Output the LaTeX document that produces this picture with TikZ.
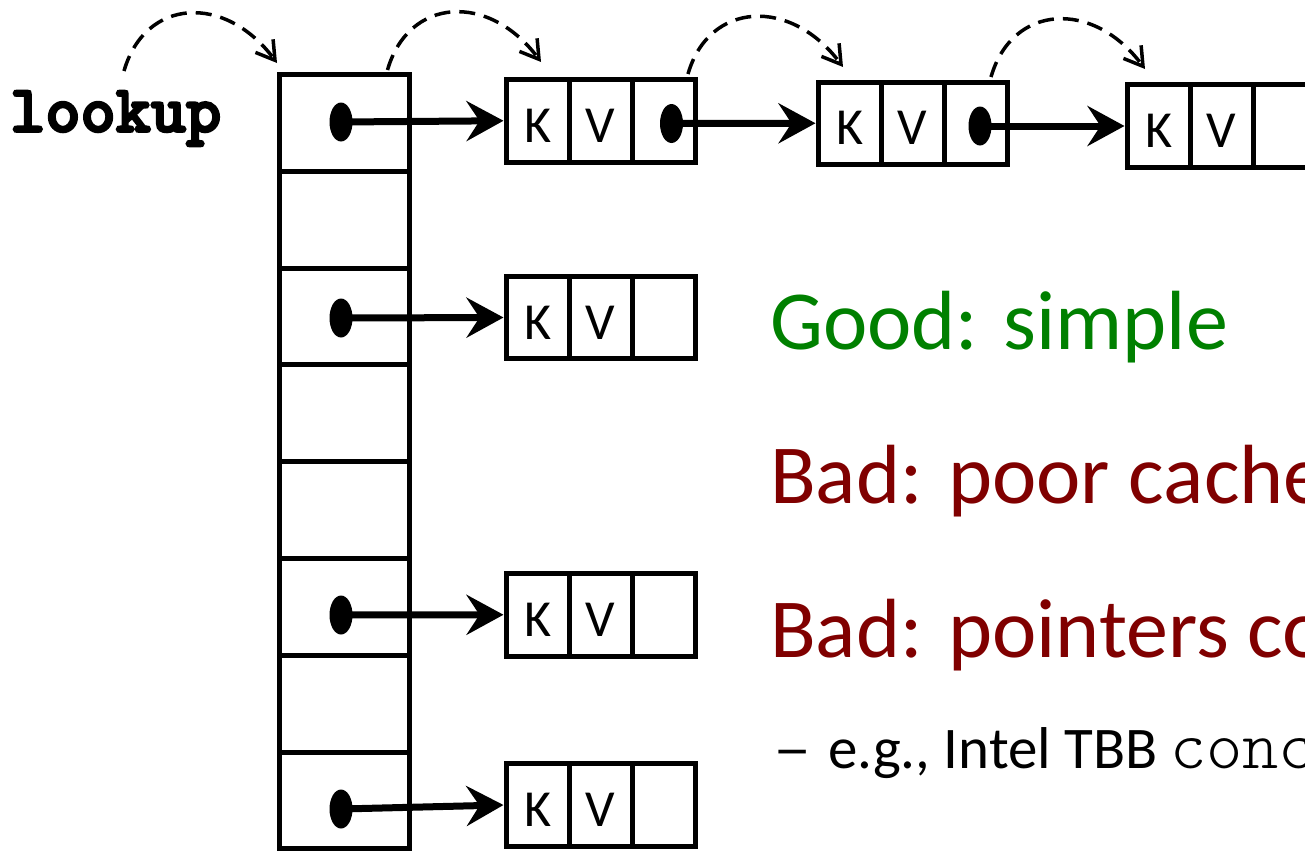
\documentclass[tikz,border=0pt]{standalone}
\usepackage{fontspec}
\setmainfont{Carlito}
\newfontfamily\heavymono[FakeBold=3.5]{lmmonolt10-bold.otf}
\newfontfamily\lightmono{lmmonolt10-regular.otf}
\usetikzlibrary{arrows.meta,shapes.geometric}

\definecolor{goodgreen}{RGB}{0,128,0}
\definecolor{badred}{RGB}{128,0,0}

\tikzset{
  slot/.style={draw, line width=5pt, minimum width=130pt, minimum height=96.8pt, inner sep=0pt},
  cell/.style={draw, line width=5pt, minimum width=63pt, minimum height=82.5pt, inner sep=0pt,
    font=\fontsize{52}{52}\selectfont, text height=43pt, text depth=0pt},
  dot/.style={ellipse, fill=black, minimum width=23pt, minimum height=39pt, inner sep=0pt},
  ptr/.style={line width=7pt, -{Stealth[length=37pt, width=40pt, inset=13pt]}},
  hop/.style={line width=3.5pt, dash pattern=on 16pt off 9pt, -{Straight Barb[length=18pt, width=22pt]}},
  txt/.style={anchor=base west, inner sep=0pt},
}

% one key/value/next record: name, left edge, vertical centre
\newcommand{\kvbox}[3]{%
  \node[cell] (#1k) at ({#2+31.5}, #3) {K};
  \node[cell] (#1v) at ({#2+94.5}, #3) {V};
  \node[cell] (#1n) at ({#2+157.5}, #3) {};
}

\begin{document}
\begin{tikzpicture}[x=1pt, y=-1pt]
\useasboundingbox (0,0) rectangle (1305,854);
\clip (0,0) rectangle (1305,854);

% bucket array
\foreach \i in {0,...,7}
  \node[slot] (r\i) at (344.5, {74.5+96.8*(\i+0.5)}) {};

% records
\kvbox{a}{506}{120.75}
\kvbox{b}{818}{123.25}
\kvbox{c}{1127}{126}
\kvbox{d}{506}{317.5}
\kvbox{e}{506}{614.75}
\kvbox{f}{506}{805}

% pointer origins
\node[dot] (p0) at (341,122) {};
\node[dot] (p2) at (341,318) {};
\node[dot] (p5) at (341,615) {};
\node[dot] (p7) at (341,809) {};
\node[dot] (pa) at (671.5,123.5) {};
\node[dot] (pb) at (980,126) {};

% pointers
\draw[ptr] (p0.center) -- (ak.west);
\draw[ptr] (p2.center) -- (dk.west);
\draw[ptr] (p5.center) -- (ek.west);
\draw[ptr] (p7.center) -- (fk.west);
\draw[ptr] (pa.center) -- (bk.west);
\draw[ptr] (pb.center) -- (ck.west);

% lookup label
\node[txt, font=\heavymono\fontsize{67}{67}\selectfont] (lk) at (10,131.7) {lookup};

% lookup hops
\coordinate (h1s) at (124,71);   \coordinate (h1e) at (277,63);
\coordinate (h2s) at (387.5,70); \coordinate (h2e) at (541,62);
\coordinate (h3s) at (688,74);   \coordinate (h3e) at (843,67);
\coordinate (h4s) at (991,77);   \coordinate (h4e) at (1145,69);
\draw[hop] (h1s) .. controls +(21,-73) and +(-52,-70) .. (h1e);
\draw[hop] (h2s) .. controls +(21,-73) and +(-52,-70) .. (h2e);
\draw[hop] (h3s) .. controls +(21,-73) and +(-52,-70) .. (h3e);
\draw[hop] (h4s) .. controls +(21,-73) and +(-52,-70) .. (h4e);

% remarks
\node[txt, text=goodgreen, font=\fontsize{84}{84}\selectfont] (good) at (770,349) {Good: simple};
\node[txt, text=badred, font=\fontsize{84}{84}\selectfont] (bad1) at (770,503) {Bad: poor cache};
\node[txt, text=badred, font=\fontsize{84}{84}\selectfont] (bad2) at (770,657) {Bad: pointers co};
\node[txt, font=\fontsize{59}{59}\selectfont] (bul) at (773,768) {\scalebox{1.3}[1]{–}};
\node[txt, font=\fontsize{59}{59}\selectfont] (eg) at (828,768) {e.g., Intel TBB};
\node[txt, font=\lightmono\fontsize{69}{69}\selectfont] (cc) at (1170,768) {conc};
\end{tikzpicture}
\end{document}
